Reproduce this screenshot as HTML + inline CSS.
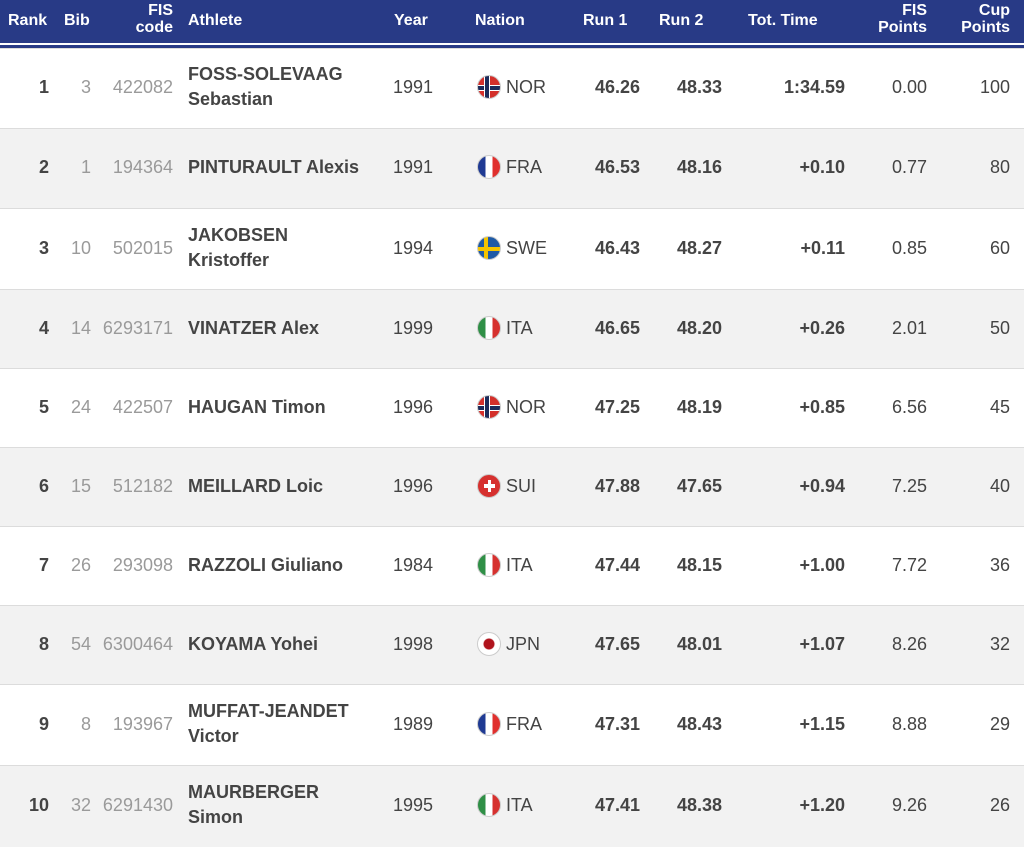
<!DOCTYPE html>
<html><head><style>
body{margin:0;width:1024px;height:845px;overflow:hidden;font-family:"Liberation Sans",Arial,sans-serif;background:#fff;position:relative}
.hd{position:absolute;left:0;top:0;width:1024px;height:43px;background:#283a86;border-bottom:2px solid #fff;box-shadow:0 3px 0 #283a86}
.h{position:absolute;color:#fff;font-weight:bold;font-size:16px;line-height:17px}
.row{position:absolute;left:0;width:1024px;border-top:1px solid #dcdcdc}
.g{background:#f2f2f2}
.c{position:absolute;font-size:18px;color:#444;line-height:24px}
.r{text-align:right}
.b{font-weight:bold}
.l{color:#9a9a9a}
.flag{position:absolute;left:477px;width:24px;height:24px;border-radius:50%;border:1px solid #ccc;box-sizing:border-box;overflow:hidden}
</style></head><body>
<div class="hd"></div>
<div class="h" style="left:8px;top:12px">Rank</div>
<div class="h" style="left:64px;top:12px">Bib</div>
<div class="h r" style="right:851px;top:2px">FIS<br>code</div>
<div class="h" style="left:188px;top:12px">Athlete</div>
<div class="h" style="left:394px;top:12px">Year</div>
<div class="h" style="left:475px;top:12px">Nation</div>
<div class="h" style="left:583px;top:12px">Run 1</div>
<div class="h" style="left:659px;top:12px">Run 2</div>
<div class="h" style="left:748px;top:12px">Tot. Time</div>
<div class="h r" style="right:97px;top:2px">FIS<br>Points</div>
<div class="h r" style="right:14px;top:2px">Cup<br>Points</div>
<div id="rows"></div>
<script>
var d=[
[1,3,"422082","FOSS-SOLEVAAG<br>Sebastian",1991,"NOR","46.26","48.33","1:34.59","0.00",100],
[2,1,"194364","PINTURAULT Alexis",1991,"FRA","46.53","48.16","+0.10","0.77",80],
[3,10,"502015","JAKOBSEN<br>Kristoffer",1994,"SWE","46.43","48.27","+0.11","0.85",60],
[4,14,"6293171","VINATZER Alex",1999,"ITA","46.65","48.20","+0.26","2.01",50],
[5,24,"422507","HAUGAN Timon",1996,"NOR","47.25","48.19","+0.85","6.56",45],
[6,15,"512182","MEILLARD Loic",1996,"SUI","47.88","47.65","+0.94","7.25",40],
[7,26,"293098","RAZZOLI Giuliano",1984,"ITA","47.44","48.15","+1.00","7.72",36],
[8,54,"6300464","KOYAMA Yohei",1998,"JPN","47.65","48.01","+1.07","8.26",32],
[9,8,"193967","MUFFAT-JEANDET<br>Victor",1989,"FRA","47.31","48.43","+1.15","8.88",29],
[10,32,"6291430","MAURBERGER<br>Simon",1995,"ITA","47.41","48.38","+1.20","9.26",26]];
var tops=[48,128,208,289,368,447,526,605,684,765,846];
var flags={
NOR:"background:#d32f2a;background-image:linear-gradient(90deg,transparent 6px,#fff 6px,#fff 7px,#1c2b5a 7px,#1c2b5a 11px,#fff 11px,#fff 12px,transparent 12px),linear-gradient(transparent 9px,#fff 9px,#fff 10px,#1c2b5a 10px,#1c2b5a 14px,#fff 14px,#fff 15px,transparent 15px)",
FRA:"background:linear-gradient(90deg,#1f3a93 33%,#fff 33%,#fff 66%,#e0302e 66%)",
ITA:"background:linear-gradient(90deg,#2f8f46 33%,#fff 33%,#fff 66%,#d6312f 66%)",
SWE:"background:#1f5aa6;background-image:linear-gradient(90deg,transparent 6px,#f5c400 6px,#f5c400 10px,transparent 10px),linear-gradient(transparent 10px,#f5c400 10px,#f5c400 14px,transparent 14px)",
SUI:"background:#d6312f",
JPN:"background:radial-gradient(circle,#b0131c 5px,#fff 6px)"};
var h="";
d.forEach(function(r,i){
var t=tops[i],hh=tops[i+1]-t,cy=hh/2;
h+='<div class="row'+(i%2?' g':'')+'" style="top:'+t+'px;height:'+hh+'px">';
var two=r[3].indexOf("<br>")>=0;
var yy=cy-14;
h+='<div class="c r b" style="right:975px;top:'+yy+'px">'+r[0]+'</div>';
h+='<div class="c r l" style="right:933px;top:'+yy+'px">'+r[1]+'</div>';
h+='<div class="c r l" style="right:851px;top:'+yy+'px">'+r[2]+'</div>';
h+='<div class="c b" style="left:188px;top:'+(two?cy-27:yy)+'px;line-height:25px">'+r[3]+'</div>';
h+='<div class="c" style="left:393px;top:'+yy+'px">'+r[4]+'</div>';
h+='<div class="flag" style="top:'+(cy-14)+'px;'+flags[r[5]]+'">'+(r[5]=="SUI"?'<div style="position:absolute;left:10px;top:5px;width:3px;height:12px;background:#fff"></div><div style="position:absolute;left:6px;top:9px;width:11px;height:4px;background:#fff"></div>':'')+'</div>';
h+='<div class="c" style="left:506px;top:'+yy+'px">'+r[5]+'</div>';
h+='<div class="c r b" style="right:384px;top:'+yy+'px">'+r[6]+'</div>';
h+='<div class="c r b" style="right:302px;top:'+yy+'px">'+r[7]+'</div>';
h+='<div class="c r b" style="right:179px;top:'+yy+'px">'+r[8]+'</div>';
h+='<div class="c r" style="right:97px;top:'+yy+'px">'+r[9]+'</div>';
h+='<div class="c r" style="right:14px;top:'+yy+'px">'+r[10]+'</div>';
h+='</div>';});
document.getElementById("rows").innerHTML=h;
</script>
</body></html>
